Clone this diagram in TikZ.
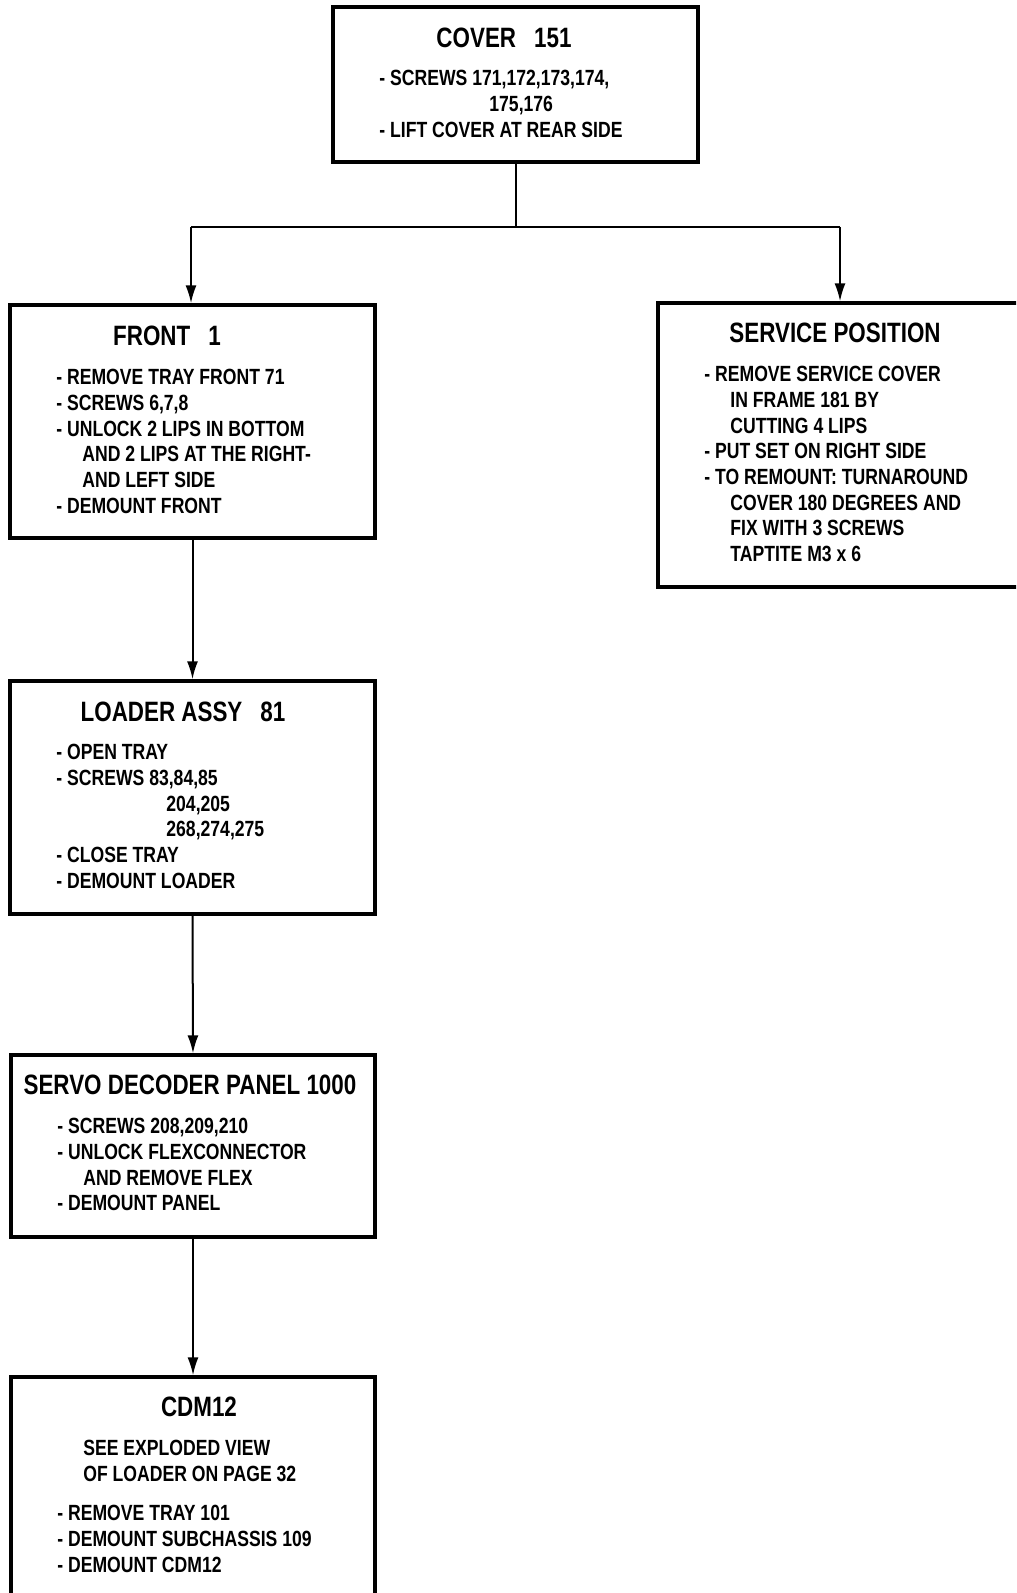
\documentclass[tikz,border=0pt]{standalone}
\usepackage{fontspec}
\setmainfont{Liberation Sans}[FakeStretch=0.8]
\usetikzlibrary{arrows.meta,fit}

\tikzset{
  stepbox/.style={draw=black, line width=1.65pt, inner sep=0pt, rectangle},
  boxtitle/.style={font=\fontsize{14pt}{16pt}\selectfont\bfseries, inner sep=0pt, anchor=base},
  boxbody/.style={font=\fontsize{11pt}{12.85pt}\selectfont\bfseries, inner sep=0pt,
                  anchor=north west, align=left},
  link/.style={line width=1pt},
  arrowlink/.style={line width=1pt, -{Latex[length=9pt,width=5.5pt]}}
}
\newcommand{\ind}{\hspace*{13pt}}

\begin{document}
\begin{tikzpicture}[x=0.5pt,y=-0.5pt]
\useasboundingbox (0,0) rectangle (1016,1593);
\fill[white] (0,0) rectangle (1016,1593);

\begin{scope}
\clip (0,0) rectangle (1016,1593);
% frames of the six steps
\node[stepbox, fit={(333,7) (698,162)}]     (cover)   {};
\node[stepbox, fit={(10,305) (375,538)}]    (front)   {};
\node[stepbox, fit={(658,303) (1040,587)}]  (service) {};
\node[stepbox, fit={(10,681) (375,914)}]    (loader)  {};
\node[stepbox, fit={(11,1055) (375,1237)}]  (servo)   {};
\node[stepbox, fit={(11,1377) (375,1640)}]  (cdm)     {};
\end{scope}

% COVER 151
\node[boxtitle] (covertitle) at (504,48) {COVER\hspace{9pt}151};
\node[boxbody] (coverbody) at (379,70) {%
  - SCREWS 171,172,173,174,\\
  \hspace*{55pt}175,176\\
  - LIFT COVER AT REAR SIDE};

% FRONT 1
\node[boxtitle] (fronttitle) at (167,346) {FRONT\hspace{9pt}1};
\node[boxbody] (frontbody) at (56,369) {%
  - REMOVE TRAY FRONT 71\\
  - SCREWS 6,7,8\\
  - UNLOCK 2 LIPS IN BOTTOM\\
  \ind AND 2 LIPS AT THE RIGHT-\\
  \ind AND LEFT SIDE\\
  - DEMOUNT FRONT};

% SERVICE POSITION
\node[boxtitle] (servicetitle) at (835,343) {SERVICE POSITION};
\node[boxbody] (servicebody) at (704,366) {%
  - REMOVE SERVICE COVER\\
  \ind IN FRAME 181 BY\\
  \ind CUTTING 4 LIPS\\
  - PUT SET ON RIGHT SIDE\\
  - TO REMOUNT: TURNAROUND\\
  \ind COVER 180 DEGREES AND\\
  \ind FIX WITH 3 SCREWS\\
  \ind TAPTITE M3 x 6};

% LOADER ASSY 81
\node[boxtitle] (loadertitle) at (183,721) {LOADER ASSY\hspace{9pt}81};
\node[boxbody] (loaderbody) at (56,744) {%
  - OPEN TRAY\\
  - SCREWS 83,84,85\\
  \hspace*{55pt}204,205\\
  \hspace*{55pt}268,274,275\\
  - CLOSE TRAY\\
  - DEMOUNT LOADER};

% SERVO DECODER PANEL 1000
\node[boxtitle] (servotitle) at (190,1094) {SERVO DECODER PANEL 1000};
\node[boxbody] (servobody) at (57,1118) {%
  - SCREWS 208,209,210\\
  - UNLOCK FLEXCONNECTOR\\
  \ind AND REMOVE FLEX\\
  - DEMOUNT PANEL};

% CDM12
\node[boxtitle] (cdmtitle) at (199,1416) {CDM12};
\node[boxbody] (cdmnote) at (83,1440) {%
  SEE EXPLODED VIEW\\
  OF LOADER ON PAGE 32};
\node[boxbody] (cdmbody) at (57,1505) {%
  - REMOVE TRAY 101\\
  - DEMOUNT SUBCHASSIS 109\\
  - DEMOUNT CDM12};

% connectors
\coordinate (split) at (516,227);
\coordinate (ljoin) at (191,227);
\coordinate (rjoin) at (840,227);
\draw[link] (cover.south -| split) -- (split);
\draw[link] (ljoin) -- (rjoin);
\draw[arrowlink] (ljoin) -- (ljoin |- front.north);
\draw[arrowlink] (rjoin) -- (rjoin |- service.north);
\draw[arrowlink] (front.south) -- (loader.north);
\draw[arrowlink] (loader.south) -- (servo.north);
\draw[arrowlink] (servo.south) -- (cdm.north -| servo.south);
\end{tikzpicture}
\end{document}
